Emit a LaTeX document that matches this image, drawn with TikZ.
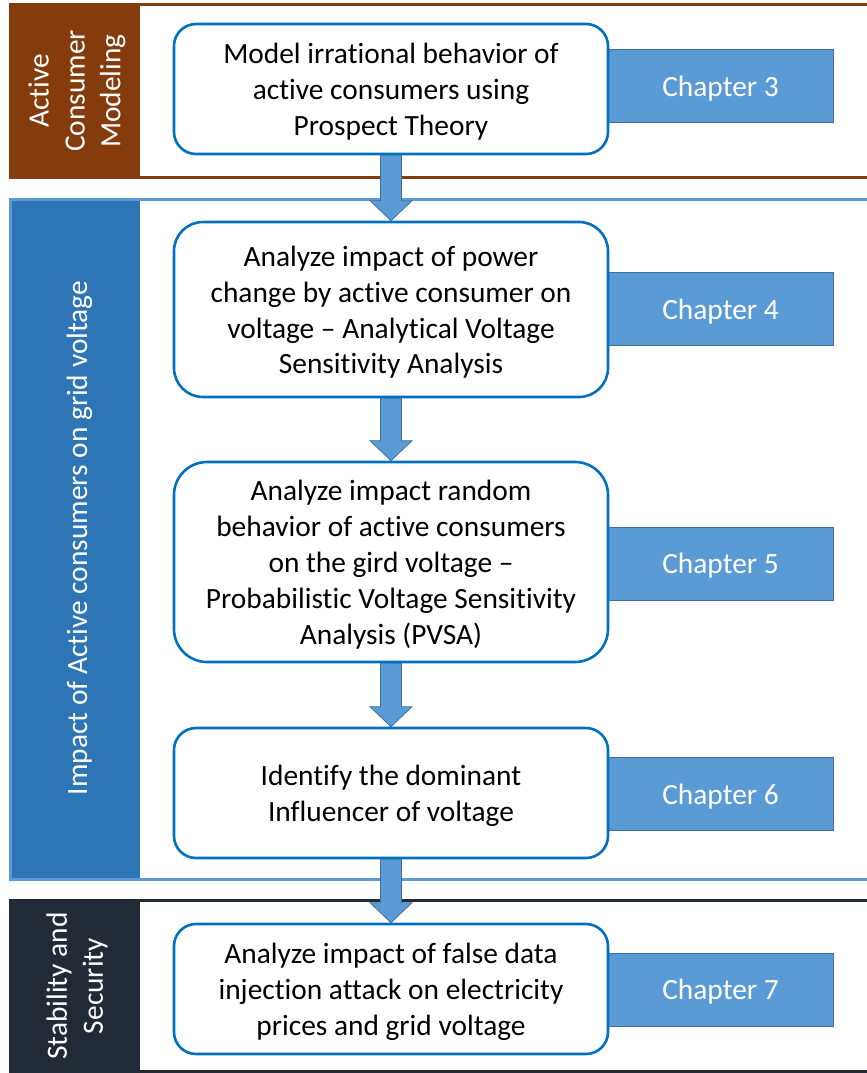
\documentclass[tikz,border=0pt]{standalone}
\usepackage{fontspec}
\setmainfont{Carlito}[Ligatures={NoCommon}]
\usetikzlibrary{calc}
\definecolor{brownband}{HTML}{843C0C}
\definecolor{blueband}{HTML}{2E75B6}
\definecolor{lightblue}{HTML}{5B9BD5}
\definecolor{darkband}{HTML}{222A35}
\definecolor{boxline}{HTML}{0070C0}
\definecolor{chapline}{HTML}{41719C}
\pgfdeclarelayer{bandlayer}
\pgfdeclarelayer{arrowlayer}
\pgfsetlayers{bandlayer,arrowlayer,main}
\newcommand\blockarrowdraw[2]{%
  \path[blockarrow] ($(#1.south)+(-10.5,0)$) -- ($(#2.north)+(-10.5,-20)$)
    -- ($(#2.north)+(-21,-20)$) -- (#2.north) -- ($(#2.north)+(21,-20)$)
    -- ($(#2.north)+(10.5,-20)$) -- ($(#1.south)+(10.5,0)$) -- cycle;}
\newcommand\steptext[1]{\raisebox{-3.5bp}[\height][\depth]{\begin{tabular}{@{}c@{}}#1\end{tabular}}}
\tikzset{
  mainfont/.style={font=\fontsize{29.5}{36}\selectfont},
  stepbox/.style={mainfont, draw=boxline, line width=2.6bp, fill=white,
    minimum width=434bp, inner sep=0pt},
  chapbox/.style={mainfont, draw=chapline, line width=1bp, fill=lightblue,
    text=white, minimum width=225bp, minimum height=73bp, inner sep=0pt, text depth=0pt},
  bandlabel/.style={mainfont, rotate=90, text=white, align=center, inner sep=0pt},
  blockarrow/.style={fill=lightblue, draw=chapline, line width=0.8bp},
  bandline/.style={line width=3bp}
}
\begin{document}
\begin{tikzpicture}[x=1bp,y=-1bp]
\useasboundingbox (0,0) rectangle (867,1073);
\clip (0,0) rectangle (867,1073);

% bands
\begin{pgfonlayer}{bandlayer}
  \fill[brownband] (10,4.5) rectangle (140,177);
  \draw[bandline, brownband] (10,4.5) rectangle (880,177);
  \fill[blueband] (10,199) rectangle (140,879);
  \draw[bandline, lightblue] (10,199) rectangle (880,879);
  \fill[darkband] (10,900) rectangle (140,1071);
  \draw[bandline, darkband] (10,900) rectangle (880,1071);
\end{pgfonlayer}

\node[bandlabel] (l1) at (77,91) {Active\\Consumer\\Modeling};
\node[bandlabel] (l2) at (79.5,538) {Impact of Active consumers on grid voltage};
\node[bandlabel] (l3) at (77,986) {Stability and\\Security};

% chapter boxes
\node[chapbox] (c3) at (720.5,86) {Chapter 3};
\node[chapbox] (c4) at (720.5,309) {Chapter 4};
\node[chapbox] (c5) at (720.5,563.5) {Chapter 5};
\node[chapbox] (c6) at (720.5,794) {Chapter 6};
\node[chapbox] (c7) at (720.5,989.5) {Chapter 7};

% step boxes
\node[stepbox, minimum height=130bp, rounded corners=22bp] (b1) at (391,89)
  {\steptext{Model irrational behavior of\\active consumers using\\Prospect Theory}};
\node[stepbox, minimum height=175bp, rounded corners=29bp] (b2) at (391,309.5)
  {\steptext{Analyze impact of power\\change by active consumer on\\voltage -- Analytical Voltage\\Sensitivity Analysis}};
\node[stepbox, minimum height=200bp, rounded corners=33bp] (b3) at (391,562)
  {\steptext{Analyze impact random\\behavior of active consumers\\on the gird voltage --\\Probabilistic Voltage Sensitivity\\Analysis (PVSA)}};
\node[stepbox, minimum height=130bp, rounded corners=22bp] (b4) at (391,793)
  {\steptext{Identify the dominant\\Influencer of voltage}};
\node[stepbox, minimum height=130bp, rounded corners=22bp] (b5) at (391,989)
  {\steptext{Analyze impact of false data\\injection attack on electricity\\prices and grid voltage}};

% arrows
\begin{pgfonlayer}{arrowlayer}
  \blockarrowdraw{b1}{b2}
  \blockarrowdraw{b2}{b3}
  \blockarrowdraw{b3}{b4}
  \blockarrowdraw{b4}{b5}
\end{pgfonlayer}
\end{tikzpicture}
\end{document}
